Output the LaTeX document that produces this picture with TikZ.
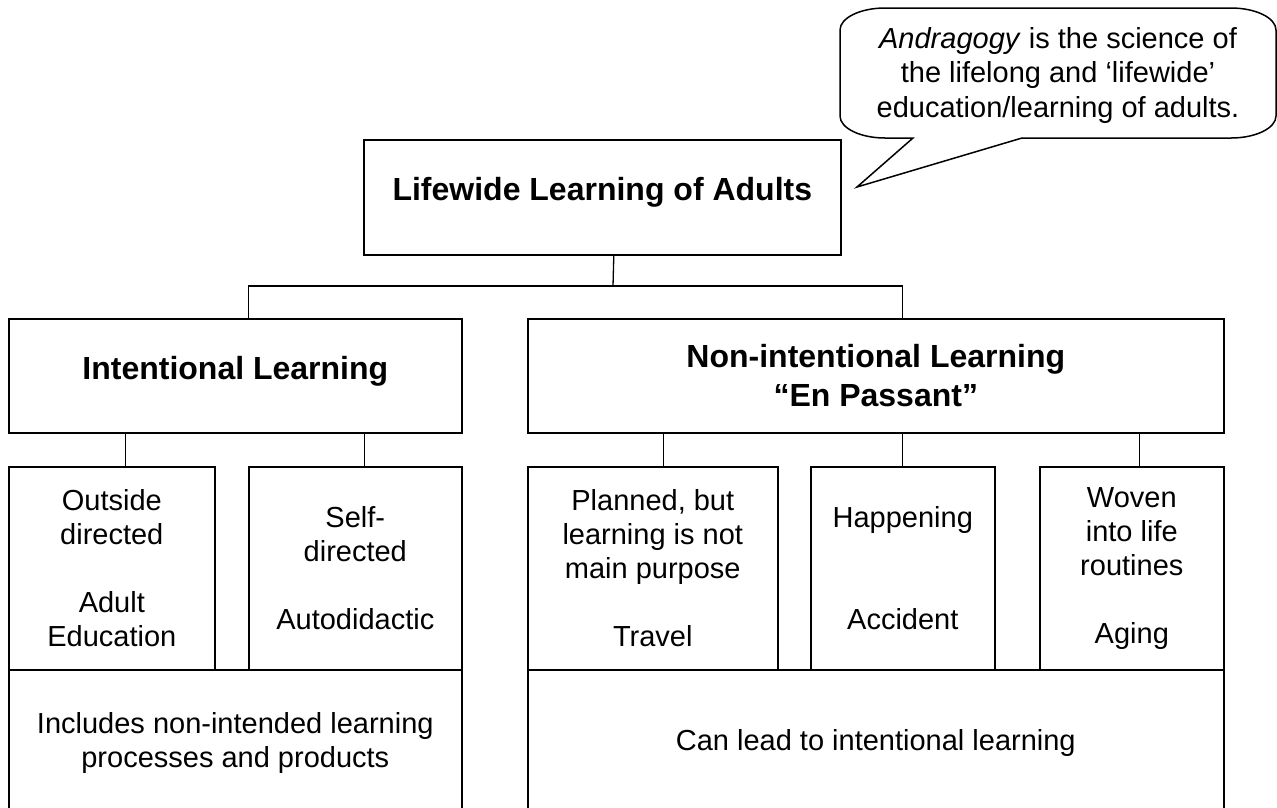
\documentclass[tikz,border=0pt]{standalone}
\usepackage{fontspec}
\setmainfont{Liberation Sans}

\begin{document}
\begin{tikzpicture}[x=1pt, y=-1pt,
    box/.style={draw, line width=1.6pt, anchor=north west, align=center,
        inner sep=0pt, font=\fontsize{29}{34}\selectfont},
    head/.style={box, font=\fontsize{32}{39}\selectfont\bfseries},
    link/.style={line width=1.3pt}]
    \useasboundingbox (0,0) rectangle (1277,807);

    % speech bubble
    \draw[line width=1.5pt] (913,138) -- (857,187) -- (1022,138) -- (1231,138)
        .. controls (1255.8,138) and (1276,128.1) .. (1276,116) -- (1276,30)
        .. controls (1276,17.9) and (1255.8,8) .. (1231,8) -- (885,8)
        .. controls (860.2,8) and (840,17.9) .. (840,30) -- (840,116)
        .. controls (840,128.1) and (860.2,138) .. (885,138) -- cycle;
    \node[align=center, inner sep=0pt, font=\fontsize{29}{34.5}\selectfont]
        (note) at (1058,75)
        {\textit{Andragogy} is the science of\\the lifelong and ‘lifewide’\\education/learning of adults.};

    \node[head, text depth=16pt, minimum width=477pt, minimum height=115pt]
        (top_name) at (363,139) {Lifewide Learning of Adults};

    \node[head, text depth=16pt, minimum width=453pt, minimum height=114pt]
        (intent_name) at (8,318) {Intentional Learning};
    \node[head, minimum width=696pt, minimum height=114pt]
        (nonint_name) at (527,318) {Non-intentional Learning\\“En Passant”};

    \node[box, minimum width=206pt, minimum height=203pt]
        (outside_name) at (8,466) {Outside\\directed\\ \\Adult\\Education};
    \node[box, minimum width=213pt, minimum height=203pt]
        (self_name) at (248,466) {Self-\\directed\\ \\Autodidactic};
    \node[box, minimum width=250pt, minimum height=203pt]
        (planned_name) at (527,466) {Planned, but\\learning is not\\main purpose\\ \\Travel};
    \node[box, minimum width=184pt, minimum height=203pt]
        (happen_name) at (810,466) {Happening\\ \\ \\Accident};
    \node[box, minimum width=184pt, minimum height=203pt]
        (woven_name) at (1039,466) {Woven\\into life\\routines\\ \\Aging};

    \node[box, minimum width=453pt, minimum height=147pt]
        (incl_name) at (8,669) {Includes non-intended learning\\processes and products};
    \node[box, minimum width=696pt, minimum height=147pt]
        (lead_name) at (527,669) {Can lead to intentional learning};

    \coordinate (fork) at (613,286);
    \draw[link] ([xshift=11.5pt]top_name.south) -- (fork);
    \draw[link] ([xshift=13.5pt]intent_name.north) |- (fork) -| ([xshift=27pt]nonint_name.north);

    \draw[link] ([xshift=14pt]outside_name.north) -- ([xshift=14pt]outside_name.north |- intent_name.south);
    \draw[link] ([xshift=9.5pt]self_name.north) -- ([xshift=9.5pt]self_name.north |- intent_name.south);
    \draw[link] ([xshift=11pt]planned_name.north) -- ([xshift=11pt]planned_name.north |- nonint_name.south);
    \draw[link] (happen_name.north) -- (happen_name.north |- nonint_name.south);
    \draw[link] ([xshift=8pt]woven_name.north) -- ([xshift=8pt]woven_name.north |- nonint_name.south);
\end{tikzpicture}
\end{document}
